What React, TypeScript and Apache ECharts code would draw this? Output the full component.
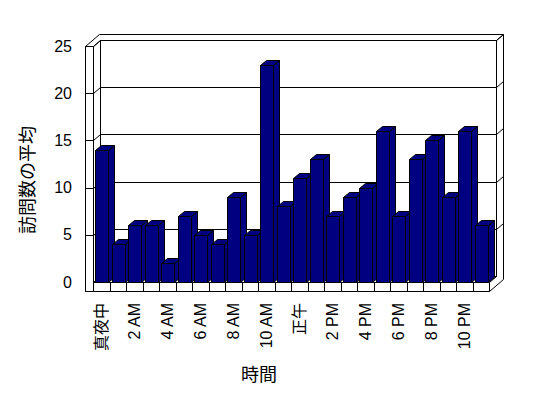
import React, { useEffect, useRef } from "react";
import * as echarts from "echarts";

const categories = [
  "真夜中", "1 AM", "2 AM", "3 AM", "4 AM", "5 AM", "6 AM", "7 AM", "8 AM", "9 AM", "10 AM", "11 AM",
  "正午", "1 PM", "2 PM", "3 PM", "4 PM", "5 PM", "6 PM", "7 PM", "8 PM", "9 PM", "10 PM", "11 PM",
];
const visits = [14, 4, 6, 6, 2, 7, 5, 4, 9, 5, 23, 8, 11, 13, 7, 9, 10, 16, 7, 13, 15, 9, 16, 6];
const yTicks = [0, 5, 10, 15, 20, 25];
const xTitle = "時間";
const yTitle = "訪問数の平均";

const FONT = '"Liberation Sans", "Noto Sans CJK JP", sans-serif';
const BAR = "#000080";
const DX = 7;
const DY = -6;

export default function App() {
  const ref = useRef<HTMLDivElement>(null);
  useEffect(() => {
    if (!ref.current) return;
    const chart = echarts.init(ref.current, null, { renderer: "svg" });
    const lineStyle = { stroke: "#000", lineWidth: 1, fill: null };
    const option = {
      animation: false,
      backgroundColor: "#fff",
      grid: { left: 93, right: 59, top: 46, bottom: 116 },
      xAxis: {
        type: "category",
        data: categories,
        axisLine: { show: false },
        axisTick: { show: false },
        axisLabel: { interval: 1, rotate: 90, margin: 21, fontSize: 16, color: "#000", fontFamily: FONT },
      },
      yAxis: {
        type: "value",
        min: yTicks[0],
        max: yTicks[yTicks.length - 1],
        interval: yTicks[1] - yTicks[0],
        axisLine: { show: false },
        axisTick: { show: false },
        splitLine: { show: false },
        axisLabel: { margin: 21, fontSize: 16, color: "#000", fontFamily: FONT },
      },
      graphic: [
        {
          type: "text",
          x: 259,
          y: 375,
          style: { text: xTitle, fontSize: 18, fontFamily: FONT, fill: "#000", textAlign: "center", textVerticalAlign: "middle" },
        },
        {
          type: "text",
          x: 28,
          y: 180,
          rotation: Math.PI / 2,
          style: { text: yTitle, fontSize: 18, fontFamily: FONT, fill: "#000", textAlign: "center", textVerticalAlign: "middle" },
        },
      ],
      series: [
        {
          type: "custom",
          name: "frame",
          clip: false,
          silent: true,
          z: 1,
          data: [[0, 0]],
          renderItem: (params: any, api: any) => {
            const cs = params.coordSys;
            const gx = Math.round(cs.x) + 0.5;
            const gy = Math.round(cs.y) + 0.5;
            const gw = Math.round(cs.width);
            const gh = Math.round(cs.height);
            const band = cs.width / categories.length;
            const white = { fill: "#fff", stroke: "#000", lineWidth: 1 };
            const ch: any[] = [];
            ch.push({
              type: "polygon",
              shape: {
                points: [
                  [gx - 8, gy + gh + 9], [gx - 8, gy], [gx - 8 + 2 * DX, gy + 2 * DY],
                  [gx + gw + 2 * DX, gy + 2 * DY], [gx + gw + 2 * DX, gy + gh + 9 + 2 * DY], [gx + gw, gy + gh + 9],
                ],
              },
              style: white,
            });
            ch.push({ type: "rect", shape: { x: gx - 8, y: gy, width: 8, height: gh + 9 }, style: white });
            ch.push({
              type: "polygon",
              shape: { points: [[gx, gy], [gx + DX, gy + DY], [gx + DX, gy + gh + DY], [gx, gy + gh]] },
              style: white,
            });
            ch.push({ type: "rect", shape: { x: gx + DX, y: gy + DY, width: gw, height: gh }, style: white });
            ch.push({
              type: "polygon",
              shape: { points: [[gx, gy + gh], [gx + gw, gy + gh], [gx + gw + DX, gy + gh + DY], [gx + DX, gy + gh + DY]] },
              style: white,
            });
            ch.push({ type: "rect", shape: { x: gx, y: gy + gh, width: gw, height: 9 }, style: white });
            for (let k = 1; k < categories.length; k++) {
              const x = Math.round(cs.x + k * band) + 0.5;
              ch.push({ type: "line", shape: { x1: x, y1: gy + gh, x2: x, y2: gy + gh + 9 }, style: lineStyle });
            }
            ch.push({ type: "line", shape: { x1: gx + gw + DX, y1: gy + DY, x2: gx + gw + 2 * DX, y2: gy + 2 * DY }, style: lineStyle });
            for (const v of yTicks) {
              if (v === 0) continue;
              const y = Math.round(api.coord([0, v])[1]) + 0.5;
              ch.push({
                type: "polyline",
                shape: {
                  points: [[gx - 8, y], [gx, y], [gx + DX, y + DY], [gx + gw + DX, y + DY], [gx + gw + 2 * DX, y + 2 * DY]],
                },
                style: lineStyle,
              });
            }
            return { type: "group", children: ch };
          },
        },
        {
          type: "custom",
          name: "訪問数の平均",
          clip: false,
          z: 5,
          data: visits.map((v, i) => [i, v]),
          renderItem: (params: any, api: any) => {
            const idx = api.value(0);
            const val = api.value(1);
            const top = api.coord([idx, val]);
            const base = api.coord([idx, 0]);
            const band = api.size([1, 0])[0];
            const w = Math.round(band * 0.8);
            const x0 = Math.round(top[0] - w / 2 + 0.5) + 0.5;
            const x1 = x0 + w;
            const yT = Math.round(top[1]) + 0.5;
            const yB = Math.round(base[1]) + 0.5;
            const dx = 6;
            const dy = -5;
            const st = { fill: BAR, stroke: "#000", lineWidth: 1 };
            return {
              type: "group",
              children: [
                { type: "polygon", shape: { points: [[x1, yT], [x1 + dx, yT + dy], [x1 + dx, yB + dy], [x1, yB]] }, style: st },
                { type: "polygon", shape: { points: [[x0, yT], [x1, yT], [x1 + dx, yT + dy], [x0 + dx, yT + dy]] }, style: st },
                { type: "rect", shape: { x: x0, y: yT, width: w, height: yB - yT }, style: st },
              ],
            };
          },
        },
      ],
    };
    chart.setOption(option as any);
    return () => chart.dispose();
  }, []);
  return (
    <div
      ref={ref}
      style={{ position: "fixed", left: 0, top: 0, width: 548, height: 398, background: "#fff" }}
    />
  );
}
